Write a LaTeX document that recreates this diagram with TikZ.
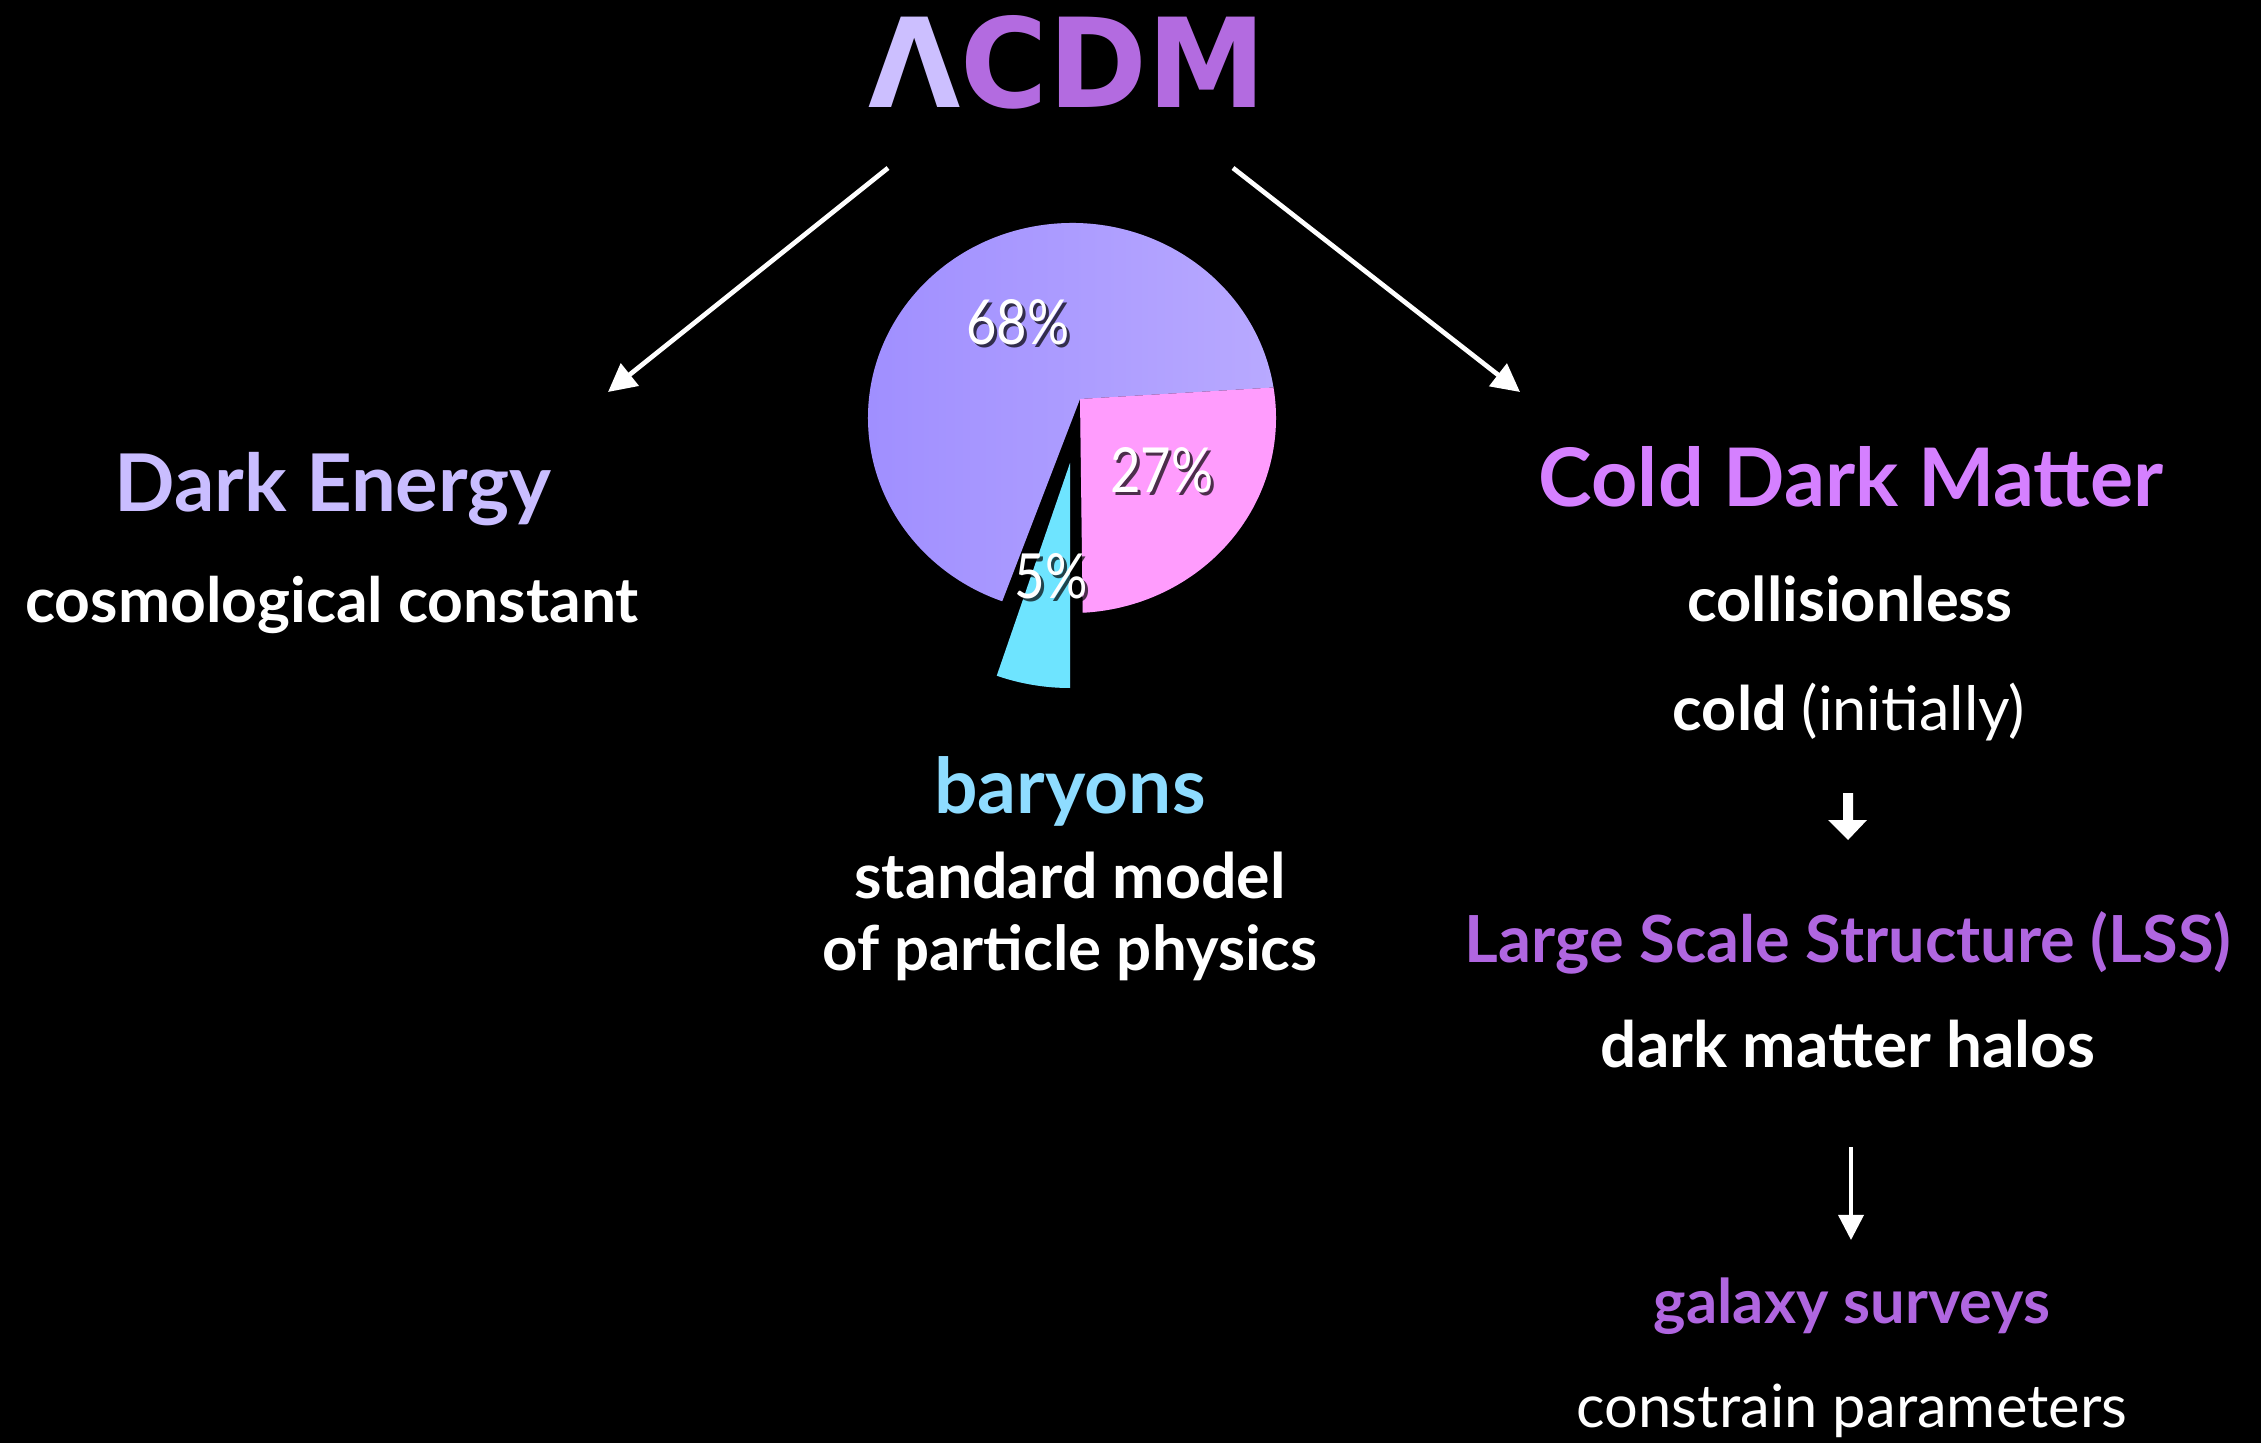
\documentclass[tikz,border=0pt]{standalone}
\usepackage{fontspec}
\setmainfont{Lato}
\newfontfamily\titlefont{DejaVu Sans}
\usetikzlibrary{arrows.meta,calc}
\definecolor{lamc}{HTML}{CCBFFF}
\definecolor{titlec}{HTML}{B36BE0}
\definecolor{dec}{HTML}{C9BDFF}
\definecolor{cdmc}{HTML}{D580FF}
\definecolor{lssc}{HTML}{B066E0}
\definecolor{baryc}{HTML}{8EDCFF}
\definecolor{purpA}{HTML}{9F8EFF}
\definecolor{purpB}{HTML}{B8A9FF}
\definecolor{pinkc}{HTML}{FF9CFD}
\definecolor{cyanc}{HTML}{6EE4FF}
\definecolor{sidec}{HTML}{241A30}
\newcommand\fw[2]{\resizebox{#1cm}{!}{#2}}
\newcommand\fwh[3]{\resizebox{#1cm}{#2cm}{#3}}
\tikzset{
  txt/.style={inner sep=0pt, anchor=base, font=\bfseries},
  bigarrow/.style={draw=white, line width=1.34pt, -{Triangle[length=0.28cm,width=0.28cm]}},
  thinarrow/.style={draw=white, line width=1pt, -{Triangle[length=0.25cm,width=0.25cm]}},
  pct/.style={inner sep=0pt, text=white},
  pctshadow/.style={inner sep=0pt, text=black, opacity=0.7},
  sideshade/.style={fill=sidec}
}
\begin{document}
\begin{tikzpicture}[x=0.01cm,y=0.01cm]
\fill[black] (0,0) rectangle (2261,-1443);
\useasboundingbox (0,0) rectangle (2261,-1443);

% title
\node[txt] (title) at (1067,-108) {\fwh{3.97}{0.92}{{\titlefont\color{lamc}Λ}{\titlefont\bfseries\color{titlec}CDM}}};

% arrows from title
\coordinate (la0) at (888,-168);
\coordinate (la1) at (608,-392);
\coordinate (ra0) at (1233,-168);
\coordinate (ra1) at (1520,-392);
\draw[bigarrow] (la0) -- (la1);
\draw[bigarrow] (ra0) -- (ra1);

% pie chart
\coordinate (O) at (1072,-418);
\coordinate (Vp) at (1080,-399);
\coordinate (Vc) at (1070,-463);
\begin{scope}[shift={(-5,-7)}]
  \fill[sideshade] (Vc) -- +(251:225) arc[start angle=251,end angle=270,radius=225] -- cycle;
\end{scope}
\fill[cyanc] (Vc) -- +(251:225) arc[start angle=251,end angle=270,radius=225] -- cycle;
\begin{scope}[shift={(-5,-7)}]
  \fill[sideshade] (Vp) -- ($(O)+(9:204 and 195)$) arc[start angle=9,end angle=250,x radius=204,y radius=195] -- cycle;
\end{scope}
\begin{scope}[shift={(-6,-7)}]
  \fill[sideshade] (Vp) -- ($(O)+(-87:204 and 195)$) arc[start angle=-87,end angle=9,x radius=204,y radius=195] -- cycle;
\end{scope}
\shade[left color=purpA, right color=purpB] (Vp) -- ($(O)+(9:204 and 195)$) arc[start angle=9,end angle=250,x radius=204,y radius=195] -- cycle;
\fill[pinkc] (Vp) -- ($(O)+(-87:204 and 195)$) arc[start angle=-87,end angle=9,x radius=204,y radius=195] -- cycle;

% percentages
\node[pctshadow] at (1021,-325) {\fwh{1.03}{0.45}{68\%}};
\node[pct] (p68) at (1018,-322) {\fwh{1.03}{0.45}{68\%}};
\node[pctshadow] at (1165,-473) {\fwh{1.03}{0.45}{27\%}};
\node[pct] (p27) at (1162,-470) {\fwh{1.03}{0.45}{27\%}};
\node[pctshadow] at (1054,-579) {\fwh{0.73}{0.45}{5\%}};
\node[pct] (p5) at (1051,-576) {\fwh{0.73}{0.45}{5\%}};

% left column
\node[txt, text=dec] (de) at (333,-512) {\fw{4.37}{Dark Energy}};
\node[txt, text=white] (cc) at (332,-623) {\fw{6.13}{cosmological constant}};

% middle column
\node[txt, text=baryc] (bar) at (1070,-813) {\fw{2.71}{baryons}};
\node[txt, text=white] (sm) at (1070,-898) {\fw{4.31}{standard model}};
\node[txt, text=white] (pp) at (1070,-970) {\fw{4.95}{of particle physics}};

% right column
\node[txt, text=cdmc] (cdm) at (1851,-507) {\fw{6.24}{Cold Dark Matter}};
\node[txt, text=white] (coll) at (1850,-622) {\fw{3.25}{collisionless}};
\node[txt, text=white] (cold) at (1849,-730) {\fw{3.52}{cold {\mdseries(initially)}}};
\fill[white] (1843,-793) -- (1853,-793) -- (1853,-820) -- (1867,-820) -- (1848,-840) -- (1828,-820) -- (1843,-820) -- cycle;
\node[txt, text=lssc] (lss) at (1848,-962) {\fw{7.66}{Large Scale Structure (LSS)}};
\node[txt, text=white] (halo) at (1848,-1067) {\fw{4.94}{dark matter halos}};
\coordinate (ta0) at (1851,-1147);
\coordinate (ta1) at (1851,-1240);
\draw[thinarrow] (ta0) -- (ta1);
\node[txt, text=lssc] (gal) at (1852,-1323) {\fw{3.96}{galaxy surveys}};
\node[txt, text=white, font=\mdseries] (con) at (1852,-1427) {\fw{5.50}{constrain parameters}};
\end{tikzpicture}
\end{document}
